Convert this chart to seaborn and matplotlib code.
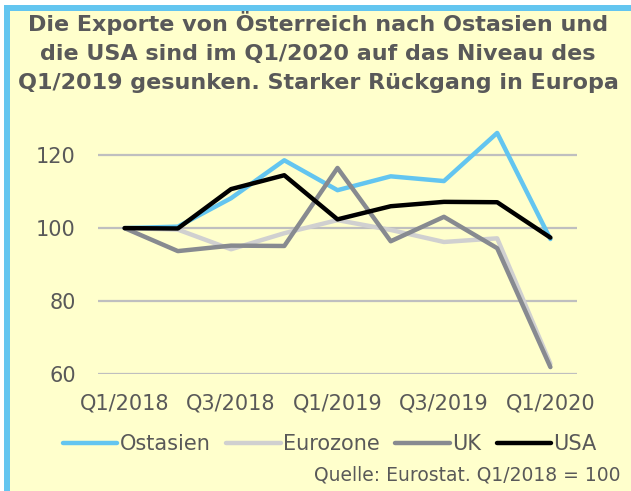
import pandas as pd
import matplotlib
matplotlib.use('Agg')
import matplotlib.pyplot as plt
import seaborn as sns
from matplotlib.patches import Rectangle

# DATEN (Q1/2018 = 100)
quartale = ['Q1/2018', 'Q2/2018', 'Q3/2018', 'Q4/2018', 'Q1/2019',
            'Q2/2019', 'Q3/2019', 'Q4/2019', 'Q1/2020']
ostasien = [100, 100.4, 108.2, 118.6, 110.4, 114.2, 112.9, 126.1, 97.0]
eurozone = [100, 99.6, 94.2, 98.6, 102.2, 99.5, 96.2, 97.2, 62.8]
uk = [100, 93.7, 95.2, 95.1, 116.5, 96.4, 103.1, 94.5, 61.9]
usa = [100, 99.9, 110.7, 114.5, 102.4, 106.0, 107.2, 107.1, 97.4]
regionen = ['Ostasien', 'Eurozone', 'UK', 'USA']
farben = ['#63C5F0', '#D0D0D0', '#878A90', '#000000']

titel = ('Die Exporte von Österreich nach Ostasien und\n'
         'die USA sind im Q1/2020 auf das Niveau des\n'
         'Q1/2019 gesunken. Starker Rückgang in Europa')
quelle = 'Quelle: Eurostat. Q1/2018 = 100'

werte = {'Ostasien': ostasien, 'Eurozone': eurozone, 'UK': uk, 'USA': usa}
df = pd.DataFrame([(r, i, v) for r in regionen for i, v in enumerate(werte[r])],
                  columns=['region', 'pos', 'wert'])

sns.set_style('white')
plt.rcParams['font.family'] = ['DejaVu Sans']
textfarbe = '#595959'
gelb = '#FFFFCC'

fig = plt.figure(figsize=(6.31, 4.91), dpi=100, facecolor='white')
W, H = 631, 491
# RAHMEN
fig.add_artist(Rectangle((4 / W, 0), 1, (H - 5) / H, transform=fig.transFigure,
                         facecolor='#63C5F0', edgecolor='none', zorder=-3))
fig.add_artist(Rectangle((10 / W, 0), 1, (H - 11) / H, transform=fig.transFigure,
                         facecolor=gelb, edgecolor='none', zorder=-2))

ax = fig.add_axes([98 / W, 117 / H, 479 / W, 248 / H])
ax.set_facecolor('none')
sns.lineplot(data=df, x='pos', y='wert', hue='region', hue_order=regionen,
             palette=farben, linewidth=3.2, ax=ax, legend=False, sort=False)

ax.set_xlim(-0.5, 8.5)
ax.set_ylim(60, 128)
ax.set_yticks([60, 80, 100, 120])
ax.set_xticks([0, 2, 4, 6, 8])
ax.set_xticklabels(quartale[::2])
ax.grid(axis='y', color='#BFBFBF', linewidth=1.6)
ax.set_axisbelow(True)
for s in ax.spines.values():
    s.set_visible(False)
ax.tick_params(axis='both', length=0, labelsize=15, labelcolor=textfarbe)
ax.tick_params(axis='y', pad=16)
ax.tick_params(axis='x', pad=14)
ax.set_xlabel('')
ax.set_ylabel('')

fig.text(0.504, (H - 11) / H, titel, ha='center', va='top', fontsize=16,
         fontweight='bold', color=textfarbe, linespacing=1.55)

# LEGENDE
handles = [plt.Line2D([], [], color=c, linewidth=3.2) for c in farben]
fig.legend(handles, regionen, loc='center', bbox_to_anchor=(330 / W, 47 / H),
           ncol=4, frameon=False, fontsize=15, handlelength=2.6,
           handletextpad=0.12, columnspacing=0.75, labelcolor=textfarbe)

fig.text(621 / W, 16 / H, quelle, ha='right', va='center', fontsize=13.5,
         color=textfarbe)

fig.savefig('out.png', dpi=100, facecolor=fig.get_facecolor())
